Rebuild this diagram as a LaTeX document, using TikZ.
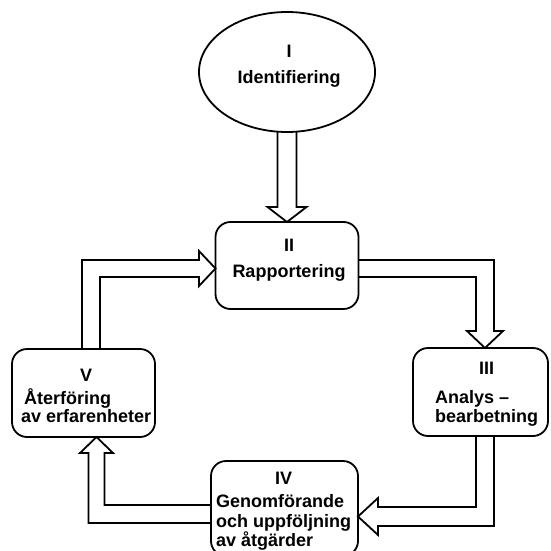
\documentclass[tikz,border=0pt]{standalone}
\usepackage{fontspec}
\setmainfont{Liberation Sans}
\usetikzlibrary{shapes.geometric,calc}

\begin{document}
\begin{tikzpicture}[
    x=1pt, y=-1pt,
    box/.style={draw, rounded corners=15pt, fill=white, line width=1.8pt, outer sep=0pt, inner sep=0pt},
    txt/.style={inner sep=0pt, font=\fontsize{18}{20}\selectfont\bfseries},
    pipe/.style={draw, line width=1.8pt, line join=miter}
]
\useasboundingbox (0,0) rectangle (550,551);
\clip (0,0) rectangle (550,551);
% Steps
\node[draw, ellipse, fill=white, line width=1.8pt, outer sep=0pt, minimum width=176pt, minimum height=120pt] (ident) at (287,72) {};
\node[box, minimum width=143pt, minimum height=87pt] (rap) at (287,265.5) {};
\node[box, minimum width=135pt, minimum height=88pt] (ana) at (480.5,392) {};
\node[box, minimum width=147pt, minimum height=95pt] (gen) at (284.5,508.5) {};
\node[box, minimum width=143pt, minimum height=88pt] (ater) at (83.5,393) {};
% Labels
\node[txt, anchor=base] (identT) at (289,57) {\begin{tabular}[t]{@{}c@{}}I\\[6pt]Identifiering\end{tabular}};
\node[txt, anchor=base] (rapT) at (289,251) {\begin{tabular}[t]{@{}c@{}}II\\[6pt]Rapportering\end{tabular}};
\node[txt, anchor=base west] (anaT) at (435,374) {\begin{tabular}[t]{@{}l@{}}\multicolumn{1}{@{}c@{}}{III}\\[9pt]Analys –\\[-1pt]bearbetning\end{tabular}};
\node[txt, anchor=base west] (genT) at (216,484) {\begin{tabular}[t]{@{}l@{}}\multicolumn{1}{@{}c@{}}{IV}\\[3pt]Genomförande\\[0pt]och uppföljning\\[-1pt]av åtgärder\end{tabular}};
\node[txt, anchor=base west] (aterT) at (21,381) {\begin{tabular}[t]{@{}l@{}}\multicolumn{1}{@{}c@{}}{V}\\[2pt]\,Återföring\\[-2pt]av erfarenheter\end{tabular}};
% I -> II
\draw[pipe] ([xshift=-9.5pt]ident.south) -- ([xshift=-9.5pt,yshift=15pt]rap.north) -- ++(-10,0)
    -- (rap.north) -- ++(19.5,-15) -- ++(-10,0) -- ([xshift=9.5pt]ident.south);
% II -> III
\draw[pipe] ([yshift=5.5pt]rap.east) -| ([xshift=13.5pt,yshift=17pt]ana.north) -- ++(9,0)
    -- ([xshift=4.5pt]ana.north) -- ++(-18,-17) -- ++(9,0) |- ([yshift=-11.5pt]rap.east);
% III -> IV
\draw[pipe] ([xshift=-4.5pt]ana.south) |- ([xshift=20pt,yshift=1.5pt]gen.east) -- ++(0,-9)
    -- ([yshift=-8pt]gen.east) -- ++(20,18.5) -- ++(0,-9) -| ([xshift=13.5pt]ana.south);
% IV -> V
\draw[pipe] ([yshift=3.5pt]gen.west) -| ([xshift=21pt,yshift=-16pt]ater.south) -- ++(8.5,0)
    -- ([xshift=13pt]ater.south) -- ++(-16.5,16) -- ++(8.5,0) |- ([yshift=-14.5pt]gen.west);
% V -> II
\draw[pipe] ([xshift=-1.5pt]ater.north) |- ([xshift=-16.5pt,yshift=5.5pt]rap.west) -- ++(0,-9)
    -- ([yshift=-3pt]rap.west) -- ++(-16.5,17.5) -- ++(0,-9) -| ([xshift=16.5pt]ater.north);
\end{tikzpicture}
\end{document}
